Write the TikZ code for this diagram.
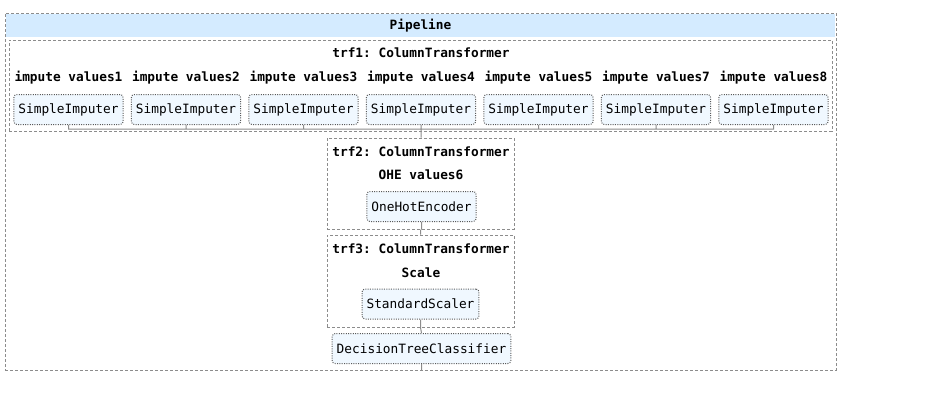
\documentclass[tikz,border=0pt]{standalone}
\usepackage{fontspec}
\setmonofont{DejaVu Sans Mono}
\definecolor{headblue}{HTML}{D4EBFF}
\definecolor{estfill}{HTML}{F0F8FF}
\definecolor{linegray}{HTML}{8C8C8C}
\definecolor{boxgray}{HTML}{5A5A5A}

\begin{document}
\begin{tikzpicture}[x=0.75pt, y=-0.75pt,
	every node/.style={font=\ttfamily\fontsize{9.6pt}{11pt}\selectfont, text=black},
	title/.style={font=\ttfamily\bfseries\fontsize{9.6pt}{11pt}\selectfont},
	estimator/.style={draw=boxgray, densely dotted, line width=0.75pt, rounded corners=2.25pt, fill=estfill, inner xsep=3.4pt, minimum height=22.5pt},
	group/.style={draw=linegray, dash pattern=on 2.25pt off 1.5pt, line width=0.75pt, inner sep=0pt},
	wire/.style={draw=linegray, line width=0.75pt}]
	\useasboundingbox (0,0) rectangle (942,401);

	% containers
	\node (pipe) at (420.5,191.5) [group, minimum width=623.25pt, minimum height=267.75pt] {};
	\node (pipehead) at (420.5,25.5) [title, fill=headblue, inner sep=0pt, minimum width=621.75pt, minimum height=17.25pt] {Pipeline};
	\node (trf1) at (420.5,85.5) [group, minimum width=617.25pt, minimum height=68.25pt] {};
	\node (trf2) at (420.5,183.5) [group, minimum width=140.25pt, minimum height=68.25pt] {};
	\node (trf3) at (420.5,281) [group, minimum width=140.25pt, minimum height=69pt] {};

	% titles
	\node (trf1title) at (421,53) [title] {trf1: ColumnTransformer};
	\node (trf2title) at (421,152) [title] {trf2: ColumnTransformer};
	\node (trf3title) at (421,249) [title] {trf3: ColumnTransformer};

	\node (lab1) at (68.5,78) [title] {impute values1};
	\node (lab2) at (186,78) [title] {impute values2};
	\node (lab3) at (303.5,78) [title] {impute values3};
	\node (lab4) at (421,78) [title] {impute values4};
	\node (lab5) at (538.5,78) [title] {impute values5};
	\node (lab7) at (656,78) [title] {impute values7};
	\node (lab8) at (773.5,78) [title] {impute values8};
	\node (labohe) at (421,175) [title] {OHE values6};
	\node (labscale) at (421,273) [title] {Scale};

	% estimators
	\node (imp1) at (68.5,109.5) [estimator] {SimpleImputer};
	\node (imp2) at (186,109.5) [estimator] {SimpleImputer};
	\node (imp3) at (303.5,109.5) [estimator] {SimpleImputer};
	\node (imp4) at (421,109.5) [estimator] {SimpleImputer};
	\node (imp5) at (538.5,109.5) [estimator] {SimpleImputer};
	\node (imp7) at (656,109.5) [estimator] {SimpleImputer};
	\node (imp8) at (773.5,109.5) [estimator] {SimpleImputer};
	\node (ohe) at (421.5,206.5) [estimator] {OneHotEncoder};
	\node (scaler) at (420.5,304) [estimator] {StandardScaler};
	\node (tree) at (421.5,348.5) [estimator] {DecisionTreeClassifier};

	\coordinate (bus) at (421,129);

	\path[wire]
		(imp1.south) |- (bus)
		(imp2.south) |- (bus)
		(imp3.south) |- (bus)
		(imp4.south) -- (bus)
		(imp5.south) |- (bus)
		(imp7.south) |- (bus)
		(imp8.south) |- (bus)
		(bus) -- (bus |- trf2.north)
		(ohe.south) -- (ohe.south |- trf2.south)
		(trf2.south) -- (trf3.north)
		(scaler.south) -- (scaler.south |- trf3.south)
		(trf3.south) -- (tree.north)
		(tree.south) -- (tree.south |- pipe.south);
\end{tikzpicture}
\end{document}
